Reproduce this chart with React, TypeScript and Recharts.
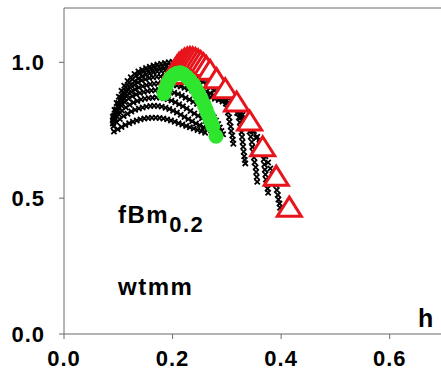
import React from "react";
import {
  ScatterChart,
  Scatter,
  XAxis,
  YAxis,
  ReferenceLine,
} from "recharts";

// black "x" curves, [h, D(h)]
const curve0: [number, number][] = [
  [0.092, 0.745], [0.099, 0.754], [0.106, 0.762], [0.113, 0.769], [0.12, 0.776], [0.127, 0.781],
  [0.134, 0.786], [0.141, 0.79], [0.148, 0.793], [0.155, 0.795], [0.162, 0.796], [0.169, 0.796],
  [0.176, 0.795], [0.183, 0.793], [0.19, 0.79], [0.197, 0.786], [0.204, 0.781], [0.211, 0.776],
  [0.218, 0.771], [0.225, 0.766], [0.232, 0.761], [0.239, 0.756], [0.246, 0.751], [0.253, 0.746],
  [0.26, 0.741],
];
const curve1: [number, number][] = [
  [0.091, 0.765], [0.097, 0.779], [0.103, 0.791], [0.11, 0.802], [0.117, 0.811], [0.124, 0.819],
  [0.131, 0.825], [0.138, 0.83], [0.145, 0.834], [0.152, 0.837], [0.159, 0.839], [0.166, 0.84],
  [0.173, 0.839], [0.18, 0.837], [0.187, 0.833], [0.194, 0.828], [0.201, 0.822], [0.208, 0.815],
  [0.215, 0.807], [0.222, 0.799], [0.229, 0.791], [0.236, 0.783], [0.243, 0.775], [0.25, 0.768],
  [0.257, 0.761], [0.264, 0.755], [0.271, 0.749],
];
const curve2: [number, number][] = [
  [0.09, 0.775], [0.095, 0.792], [0.101, 0.808], [0.107, 0.822], [0.114, 0.834], [0.121, 0.844],
  [0.128, 0.852], [0.135, 0.858], [0.142, 0.863], [0.149, 0.866], [0.156, 0.869], [0.163, 0.87],
  [0.17, 0.871], [0.177, 0.87], [0.184, 0.868], [0.191, 0.864], [0.198, 0.859], [0.205, 0.853],
  [0.212, 0.846], [0.219, 0.838], [0.226, 0.83], [0.233, 0.821], [0.24, 0.812], [0.247, 0.803],
  [0.254, 0.794], [0.261, 0.785], [0.267, 0.776], [0.273, 0.767], [0.279, 0.757],
];
const curve3: [number, number][] = [
  [0.09, 0.785], [0.095, 0.805], [0.1, 0.823], [0.106, 0.84], [0.112, 0.854], [0.119, 0.866],
  [0.126, 0.875], [0.133, 0.882], [0.14, 0.887], [0.147, 0.891], [0.154, 0.894], [0.161, 0.896],
  [0.168, 0.897], [0.175, 0.898], [0.182, 0.897], [0.189, 0.895], [0.196, 0.892], [0.203, 0.888],
  [0.21, 0.883], [0.217, 0.877], [0.224, 0.87], [0.231, 0.863], [0.238, 0.855], [0.245, 0.847],
  [0.252, 0.838], [0.259, 0.829], [0.265, 0.819], [0.271, 0.809], [0.276, 0.798], [0.28, 0.786],
  [0.284, 0.773], [0.287, 0.76], [0.29, 0.747], [0.293, 0.735],
];
const curve4: [number, number][] = [
  [0.091, 0.792], [0.095, 0.813], [0.1, 0.833], [0.105, 0.851], [0.111, 0.867], [0.117, 0.88],
  [0.124, 0.891], [0.131, 0.9], [0.138, 0.907], [0.145, 0.912], [0.152, 0.916], [0.159, 0.919],
  [0.166, 0.921], [0.173, 0.922], [0.18, 0.923], [0.187, 0.922], [0.194, 0.921], [0.201, 0.918],
  [0.208, 0.915], [0.215, 0.911], [0.222, 0.906], [0.229, 0.901], [0.236, 0.896], [0.243, 0.891],
  [0.25, 0.886], [0.257, 0.881], [0.264, 0.876], [0.271, 0.871], [0.278, 0.866], [0.285, 0.861],
  [0.292, 0.856], [0.298, 0.848], [0.3, 0.832], [0.302, 0.815], [0.304, 0.798], [0.305, 0.781],
  [0.307, 0.764], [0.308, 0.747], [0.31, 0.731], [0.311, 0.715], [0.312, 0.7],
];
const curve5: [number, number][] = [
  [0.092, 0.796], [0.096, 0.818], [0.1, 0.839], [0.105, 0.859], [0.11, 0.877], [0.116, 0.893],
  [0.122, 0.906], [0.129, 0.917], [0.136, 0.926], [0.143, 0.933], [0.15, 0.938], [0.157, 0.942],
  [0.164, 0.945], [0.171, 0.947], [0.178, 0.948], [0.185, 0.948], [0.192, 0.947], [0.199, 0.945],
  [0.206, 0.942], [0.213, 0.938], [0.22, 0.933], [0.227, 0.927], [0.234, 0.921], [0.241, 0.914],
  [0.248, 0.907], [0.255, 0.9], [0.262, 0.893], [0.269, 0.886], [0.276, 0.879], [0.283, 0.872],
  [0.29, 0.865], [0.297, 0.858], [0.304, 0.851], [0.311, 0.843], [0.317, 0.832], [0.32, 0.815],
  [0.322, 0.797], [0.324, 0.779], [0.325, 0.761], [0.327, 0.743], [0.328, 0.725], [0.329, 0.707],
  [0.33, 0.689], [0.331, 0.671], [0.332, 0.654], [0.333, 0.641], [0.334, 0.628],
];
const curve6: [number, number][] = [
  [0.093, 0.8], [0.097, 0.823], [0.101, 0.845], [0.106, 0.866], [0.111, 0.885], [0.117, 0.902],
  [0.123, 0.917], [0.13, 0.93], [0.137, 0.94], [0.144, 0.948], [0.151, 0.954], [0.158, 0.959],
  [0.165, 0.963], [0.172, 0.966], [0.179, 0.968], [0.186, 0.97], [0.193, 0.971], [0.2, 0.971],
  [0.207, 0.97], [0.214, 0.967], [0.221, 0.963], [0.228, 0.958], [0.235, 0.952], [0.242, 0.945],
  [0.249, 0.937], [0.256, 0.928], [0.263, 0.918], [0.27, 0.907], [0.277, 0.896], [0.284, 0.884],
  [0.291, 0.871], [0.298, 0.858], [0.305, 0.844], [0.312, 0.829], [0.319, 0.813], [0.326, 0.797],
  [0.333, 0.78], [0.339, 0.764], [0.342, 0.745], [0.344, 0.726], [0.346, 0.707], [0.347, 0.688],
  [0.349, 0.669], [0.35, 0.65], [0.351, 0.632], [0.353, 0.614], [0.354, 0.596], [0.355, 0.578],
  [0.356, 0.56],
];
const curve7: [number, number][] = [
  [0.092, 0.803], [0.096, 0.827], [0.1, 0.85], [0.104, 0.871], [0.109, 0.891], [0.114, 0.909],
  [0.12, 0.925], [0.126, 0.939], [0.133, 0.951], [0.14, 0.96], [0.147, 0.967], [0.154, 0.972],
  [0.161, 0.976], [0.168, 0.98], [0.175, 0.983], [0.182, 0.985], [0.189, 0.987], [0.196, 0.988],
  [0.203, 0.988], [0.21, 0.987], [0.217, 0.985], [0.224, 0.981], [0.231, 0.976], [0.238, 0.97],
  [0.245, 0.963], [0.252, 0.955], [0.259, 0.946], [0.266, 0.936], [0.273, 0.925], [0.28, 0.913],
  [0.287, 0.9], [0.294, 0.887], [0.301, 0.873], [0.308, 0.858], [0.315, 0.842], [0.322, 0.825],
  [0.329, 0.807], [0.336, 0.788], [0.343, 0.768], [0.35, 0.747], [0.356, 0.726], [0.361, 0.704],
  [0.365, 0.683], [0.367, 0.662], [0.368, 0.643], [0.369, 0.624], [0.37, 0.605], [0.371, 0.587],
  [0.372, 0.569], [0.374, 0.551], [0.375, 0.535], [0.376, 0.52],
];
const curve8: [number, number][] = [
  [0.09, 0.8], [0.093, 0.825], [0.097, 0.85], [0.101, 0.873], [0.106, 0.895], [0.111, 0.914],
  [0.117, 0.931], [0.123, 0.945], [0.13, 0.957], [0.137, 0.966], [0.144, 0.973], [0.151, 0.979],
  [0.158, 0.984], [0.165, 0.988], [0.172, 0.992], [0.179, 0.995], [0.186, 0.998], [0.193, 1.0],
  [0.2, 1.002], [0.207, 1.003], [0.214, 1.002], [0.221, 1.0], [0.228, 0.996], [0.235, 0.991],
  [0.242, 0.984], [0.249, 0.976], [0.256, 0.967], [0.263, 0.956], [0.27, 0.944], [0.277, 0.931],
  [0.284, 0.917], [0.291, 0.902], [0.298, 0.886], [0.305, 0.869], [0.312, 0.851], [0.319, 0.832],
  [0.326, 0.812], [0.333, 0.791], [0.34, 0.769], [0.347, 0.746], [0.354, 0.722], [0.36, 0.7],
  [0.366, 0.677], [0.371, 0.654], [0.376, 0.631], [0.38, 0.609], [0.384, 0.588], [0.387, 0.568],
  [0.39, 0.549], [0.392, 0.53], [0.394, 0.512], [0.395, 0.495], [0.397, 0.48], [0.398, 0.465],
];
const blackCurves = [curve0, curve1, curve2, curve3, curve4, curve5, curve6, curve7, curve8];

// red open triangles
const triangles: [number, number][] = [
  [0.2, 0.955], [0.204, 0.972], [0.208, 0.985], [0.212, 0.996], [0.217, 1.005], [0.222, 1.012],
  [0.227, 1.016], [0.232, 1.018], [0.237, 1.017], [0.242, 1.014], [0.247, 1.009], [0.252, 1.003],
  [0.257, 0.995], [0.262, 0.985], [0.269, 0.971], [0.281, 0.94], [0.297, 0.903], [0.318, 0.854],
  [0.342, 0.784], [0.366, 0.689], [0.391, 0.581], [0.415, 0.467],
];

// green filled circles
const circles: [number, number][] = [
  [0.184, 0.885], [0.187, 0.905], [0.191, 0.925], [0.196, 0.942], [0.202, 0.953], [0.208, 0.96],
  [0.214, 0.962], [0.22, 0.957], [0.226, 0.947], [0.232, 0.935], [0.238, 0.92], [0.243, 0.903],
  [0.248, 0.885], [0.253, 0.865], [0.258, 0.845], [0.262, 0.825], [0.266, 0.805], [0.27, 0.785],
  [0.274, 0.765], [0.28, 0.728],
];

const xTicks = [0, 0.2, 0.4, 0.6];
const yTicks = [0, 0.5, 1.0];

const toRows = (pts: [number, number][]) => pts.map(([h, d]) => ({ h, d }));

const FONT = "'Liberation Sans', Arial, sans-serif";
const AXIS = "#6b6b6b";
const RED = "#e8141c";
const GREEN = "#2fe62f";

const XMark = (props: any) => {
  const { cx, cy } = props;
  const s = 2.6;
  return (
    <path
      d={`M${cx - s} ${cy - s}L${cx + s} ${cy + s}M${cx - s} ${cy + s}L${cx + s} ${cy - s}`}
      stroke="#000"
      strokeWidth={1.8}
    />
  );
};

const Tri = (props: any) => {
  const { cx, cy } = props;
  return (
    <polygon
      points={`${cx},${cy - 10} ${cx - 12},${cy + 9} ${cx + 12},${cy + 9}`}
      fill="#fff"
      stroke={RED}
      strokeWidth={3}
    />
  );
};

const Dot = (props: any) => {
  const { cx, cy } = props;
  return <circle cx={cx} cy={cy} r={7.5} fill={GREEN} />;
};

const XTick = (props: any) => {
  const { x, y, payload } = props;
  return (
    <text x={x} y={y} dy={16} textAnchor="middle" fontSize={22} fontWeight="bold" fontFamily={FONT} fill="#000" letterSpacing={1}>
      {Number(payload.value).toFixed(1)}
    </text>
  );
};

const YTick = (props: any) => {
  const { x, y, payload } = props;
  return (
    <text x={x} y={y} dy={8} textAnchor="end" fontSize={22} fontWeight="bold" fontFamily={FONT} fill="#000" letterSpacing={1}>
      {Number(payload.value).toFixed(1)}
    </text>
  );
};

export default function App() {
  return (
    <div
      style={{
        position: "fixed",
        left: 0,
        top: 0,
        width: 441,
        height: 382,
        overflow: "hidden",
        background: "#fff",
        fontFamily: FONT,
      }}
    >
      <ScatterChart width={444} height={382} margin={{ top: 8, right: 0, bottom: 0, left: 0 }}>
        <XAxis
          type="number"
          dataKey="h"
          domain={[0, 0.7]}
          ticks={xTicks}
          height={48}
          tickSize={5}
          tickMargin={11}
          tick={<XTick />}
          axisLine={{ stroke: AXIS }}
          tickLine={{ stroke: AXIS }}
          allowDataOverflow
        />
        <YAxis
          type="number"
          dataKey="d"
          domain={[0, 1.2]}
          ticks={yTicks}
          width={64}
          tickSize={5}
          tickMargin={14}
          tick={<YTick />}
          axisLine={{ stroke: AXIS }}
          tickLine={{ stroke: AXIS }}
          allowDataOverflow
        />
        <ReferenceLine y={1.2} stroke={AXIS} ifOverflow="visible" />
        {blackCurves.map((c, i) => (
          <Scatter key={i} data={toRows(c)} shape={XMark} isAnimationActive={false} />
        ))}
        <Scatter data={toRows(triangles)} shape={Tri} isAnimationActive={false} />
        <Scatter data={toRows(circles)} shape={Dot} isAnimationActive={false} />
      </ScatterChart>
      <svg
        width={441}
        height={382}
        style={{ position: "absolute", left: 0, top: 0, pointerEvents: "none" }}
      >
        <text x={118} y={223} fontSize={24} fontWeight="bold" fontFamily={FONT} letterSpacing={1.5}>
          fBm
          <tspan dy={9} fontSize={22}>0.2</tspan>
        </text>
        <text x={118} y={295} fontSize={24} fontWeight="bold" fontFamily={FONT} letterSpacing={1.5}>
          wtmm
        </text>
        <text x={418} y={327} fontSize={25} fontWeight="bold" fontFamily={FONT}>
          h
        </text>
      </svg>
    </div>
  );
}
